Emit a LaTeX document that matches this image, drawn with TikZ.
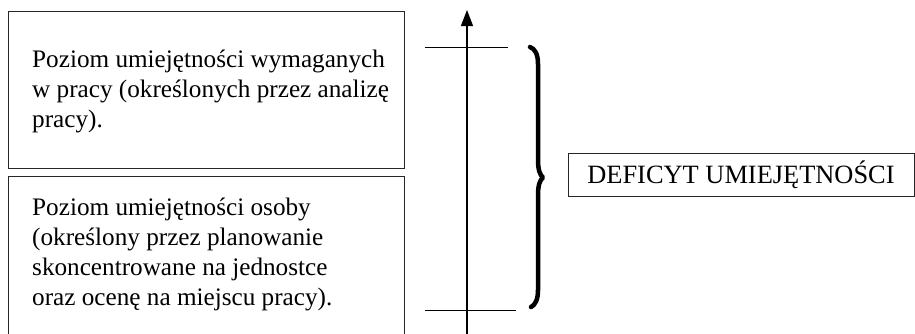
\documentclass[tikz,border=0pt]{standalone}
\usepackage{fontspec}
\setmainfont{Liberation Serif}
\usetikzlibrary{arrows.meta}
\begin{document}
\begin{tikzpicture}[x=1pt,y=-1pt,
  box/.style={draw=black!85,line width=0.9pt,inner sep=0pt},
  bodytext/.style={font=\fontsize{25.2}{30}\selectfont,align=left,anchor=base west,inner sep=0pt},
  axisline/.style={line width=1.2pt},
  tickline/.style={line width=1pt},
  bigbrace/.style={line width=4.5pt,line cap=round,line join=round}]
\useasboundingbox (0,0) rectangle (915,333);
\clip (0,0) rectangle (915,333);
\node[box,minimum width=396pt,minimum height=157pt] (b1) at (206,89.5) {};
\node[box,minimum width=396pt,minimum height=180pt] (b2) at (206,266) {};
\node[bodytext] (t1) at (32,127) {Poziom umiejętności wymaganych\\w pracy (określonych przez analizę\\pracy).};
\node[bodytext,font=\fontsize{25.2}{29.7}\selectfont] (t2) at (32,305) {Poziom umiejętności osoby\\(określony przez planowanie\\skoncentrowane na jednostce\\oraz ocenę na miejscu pracy).};
\coordinate (axb) at (467,340);
\coordinate (axt) at (467,10);
\draw[axisline,-{Triangle[length=16pt,width=12pt]}] (axb) -- (axt);
\coordinate (ut1) at (425,47);
\coordinate (ut2) at (508,47);
\coordinate (lt1) at (425,310.5);
\coordinate (lt2) at (516,310.5);
\draw[tickline] (ut1) -- (ut2);
\draw[tickline] (lt1) -- (lt2);
\coordinate (br1) at (530,47);
\coordinate (brtip) at (543,177.5);
\coordinate (br2) at (531,307);
\draw[bigbrace] (br1) .. controls (535,49) and (538,54) .. (538,64) -- (538,160)
  .. controls (538,170) and (540,175) .. (brtip)
  .. controls (540,180) and (538,185) .. (538,195) -- (538,290)
  .. controls (538,300) and (535,305) .. (br2);
\node[box,minimum width=346pt,minimum height=43pt,font=\fontsize{26.4}{30}\selectfont] (d) at (741,174.5) {DEFICYT UMIEJĘTNOŚCI};
\end{tikzpicture}
\end{document}
